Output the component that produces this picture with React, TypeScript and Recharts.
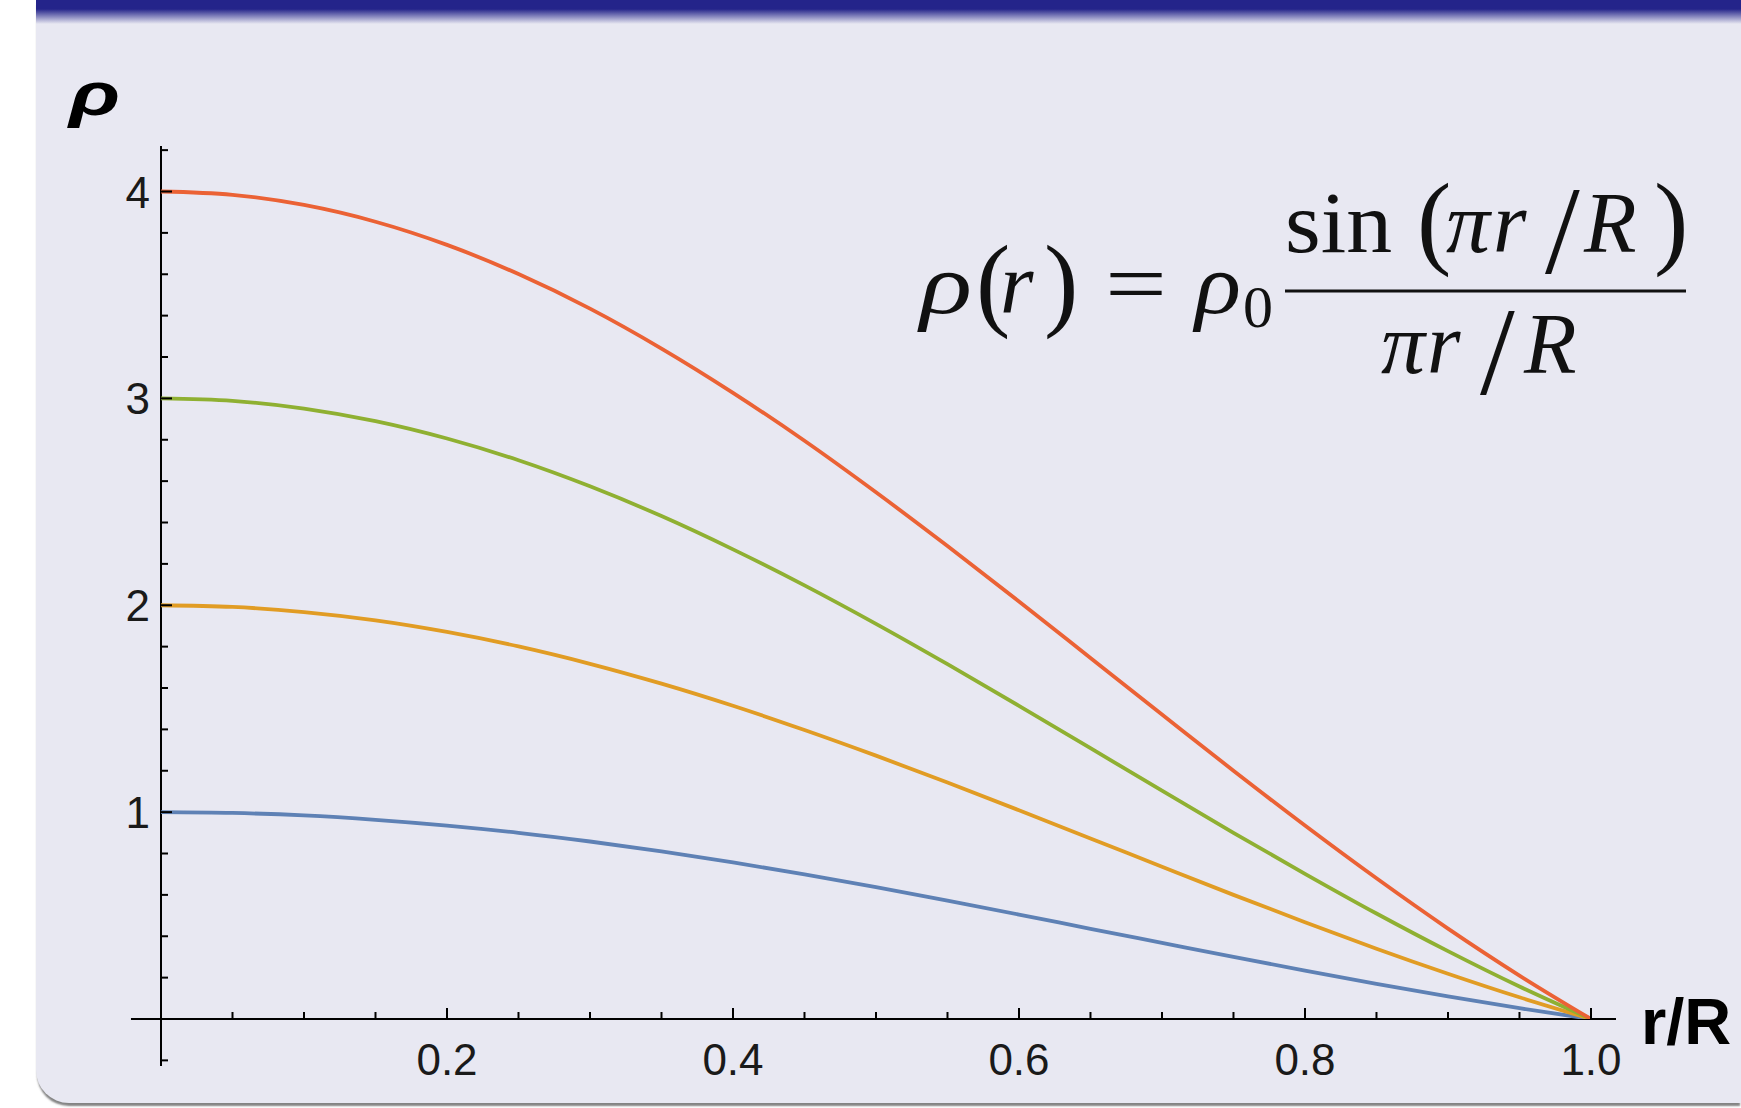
import React from 'react';
import { LineChart, Line, XAxis, YAxis, ReferenceLine } from 'recharts';

// r/R sample positions
const rValues = [0, 0.05, 0.1, 0.15, 0.2, 0.25, 0.3, 0.35, 0.4, 0.45, 0.5, 0.55, 0.6, 0.65, 0.7, 0.75, 0.8, 0.85, 0.9, 0.95, 1.0];

// rho(r) for rho0 = 1, 2, 3, 4
const rho1 = [1, 0.996, 0.984, 0.963, 0.935, 0.9, 0.858, 0.81, 0.757, 0.699, 0.637, 0.572, 0.505, 0.436, 0.368, 0.3, 0.234, 0.17, 0.109, 0.052, 0];
const rho2 = [2, 1.992, 1.967, 1.927, 1.871, 1.801, 1.717, 1.621, 1.514, 1.397, 1.273, 1.143, 1.009, 0.873, 0.736, 0.6, 0.468, 0.34, 0.219, 0.105, 0];
const rho3 = [3, 2.988, 2.951, 2.89, 2.806, 2.701, 2.575, 2.431, 2.27, 2.096, 1.91, 1.715, 1.514, 1.309, 1.104, 0.9, 0.702, 0.51, 0.328, 0.157, 0];
const rho4 = [4, 3.984, 3.935, 3.854, 3.742, 3.601, 3.434, 3.241, 3.027, 2.795, 2.546, 2.286, 2.018, 1.745, 1.472, 1.2, 0.935, 0.68, 0.437, 0.21, 0];

const xTicks = [0.05, 0.1, 0.15, 0.2, 0.25, 0.3, 0.35, 0.4, 0.45, 0.5, 0.55, 0.6, 0.65, 0.7, 0.75, 0.8, 0.85, 0.9, 0.95, 1.0];
const xTickLabels = ['0.2', '0.4', '0.6', '0.8', '1.0'];
const yTicks = [-0.2, 0.2, 0.4, 0.6, 0.8, 1, 1.2, 1.4, 1.6, 1.8, 2, 2.2, 2.4, 2.6, 2.8, 3, 3.2, 3.4, 3.6, 3.8, 4, 4.2];
const yTickLabels = ['1', '2', '3', '4'];

const data = rValues.map((r, i) => ({ r, rho1: rho1[i], rho2: rho2[i], rho3: rho3[i], rho4: rho4[i] }));

const sans = '"Liberation Sans", Arial, Helvetica, sans-serif';
const serif = '"Liberation Serif", "Times New Roman", serif';

const findLabel = (labels: string[], v: number) => labels.find((l) => Math.abs(parseFloat(l) - v) < 1e-6);

const XTick = (props: any) => {
  const { x, y, payload } = props;
  const label = findLabel(xTickLabels, payload.value);
  return (
    <g>
      <line x1={x} y1={y} x2={x} y2={y - (label ? 11 : 7)} stroke="#000" strokeWidth={2} />
      {label && (
        <text x={x} y={y + 56} textAnchor="middle" fontSize={44} fontFamily={sans} fill="#1a1a1a">
          {label}
        </text>
      )}
    </g>
  );
};

const YTick = (props: any) => {
  const { x, y, payload } = props;
  const label = findLabel(yTickLabels, payload.value);
  return (
    <g>
      <line x1={x} y1={y} x2={x + (label ? 11 : 7)} y2={y} stroke="#000" strokeWidth={2} />
      {label && (
        <text x={x - 11} y={y + 16} textAnchor="end" fontSize={44} fontFamily={sans} fill="#1a1a1a">
          {label}
        </text>
      )}
    </g>
  );
};

// formula pieces: text, x, baseline, italic, size, width
type Glyph = [string, number, number, boolean, number, number?];
const leftSide: Glyph[] = [
  ['ρ', 920, 313, true, 86, 52],
  ['(', 976, 317, false, 103],
  ['r', 1000, 313, true, 86],
  [')', 1044, 317, false, 103],
  ['=', 1105, 313, false, 86, 62],
  ['ρ', 1195, 313, true, 86, 46],
  ['0', 1243, 327, false, 60],
];
const numerator: Glyph[] = [
  ['sin', 1285, 252, false, 86, 107],
  ['(', 1417, 255, false, 103],
  ['π', 1446, 252, true, 86, 44],
  ['r', 1493, 252, true, 86],
  ['/', 1545, 273, false, 125],
  ['R', 1584, 252, true, 86],
  [')', 1654, 255, false, 103],
];
const denominator: Glyph[] = [
  ['π', 1381, 373, true, 86, 44],
  ['r', 1427, 373, true, 86],
  ['/', 1480, 394, false, 125],
  ['R', 1524, 373, true, 86],
];

const Row = ({ glyphs }: { glyphs: Glyph[] }) => (
  <text fontFamily={serif} fill="#111">
    {glyphs.map(([t, x, y, it, size, w], i) => (
      <tspan
        key={i}
        x={x}
        y={y}
        fontSize={size}
        fontStyle={it ? 'italic' : 'normal'}
        {...(w ? { textLength: w, lengthAdjust: 'spacingAndGlyphs' } : {})}
      >
        {t}
      </tspan>
    ))}
  </text>
);

export default function App() {
  return (
    <div style={{ position: 'absolute', left: 0, top: 0, width: 1741, height: 1108, background: '#ffffff', overflow: 'hidden' }}>
      <div
        style={{
          position: 'absolute',
          left: 36,
          top: 0,
          width: 1741 - 36,
          height: 1103,
          background: 'rgb(232,232,242)',
          borderBottomLeftRadius: 33,
          boxShadow: '0 4px 2px -1px rgba(90,90,90,0.75)',
        }}
      />
      <div
        style={{
          position: 'absolute',
          left: 36,
          top: 0,
          width: 1741 - 36,
          height: 24,
          background: 'linear-gradient(to bottom, rgb(36,36,138) 0px, rgb(36,36,138) 9px, rgba(232,232,242,1) 24px)',
        }}
      />
      <div style={{ position: 'absolute', left: 0, top: 0 }}>
        <LineChart width={1741} height={1108} data={data} margin={{ top: 146, right: 125, bottom: 88, left: 160 }}>
          <XAxis
            dataKey="r"
            type="number"
            domain={[0, 1.0175]}
            ticks={xTicks}
            interval={0}
            axisLine={false}
            tickLine={false}
            tickSize={0}
            tickMargin={0}
            height={1}
            tick={<XTick />}
          />
          <YAxis
            type="number"
            domain={[0, 4.22]}
            ticks={yTicks}
            interval={0}
            axisLine={false}
            tickLine={false}
            tickSize={0}
            tickMargin={0}
            width={1}
            tick={<YTick />}
            allowDataOverflow
          />
          <ReferenceLine segment={[{ x: -0.021, y: 0 }, { x: 1.0175, y: 0 }]} stroke="#000" strokeWidth={2} ifOverflow="visible" />
          <ReferenceLine segment={[{ x: 0, y: -0.227 }, { x: 0, y: 4.22 }]} stroke="#000" strokeWidth={2} ifOverflow="visible" />
          <Line dataKey="rho1" type="monotone" stroke="#5E81B5" strokeWidth={3.8} dot={false} isAnimationActive={false} />
          <Line dataKey="rho2" type="monotone" stroke="#E19C24" strokeWidth={3.8} dot={false} isAnimationActive={false} />
          <Line dataKey="rho3" type="monotone" stroke="#8FB032" strokeWidth={3.8} dot={false} isAnimationActive={false} />
          <Line dataKey="rho4" type="monotone" stroke="#EB6235" strokeWidth={3.8} dot={false} isAnimationActive={false} />
        </LineChart>
      </div>
      <svg width={1741} height={1108} style={{ position: 'absolute', left: 0, top: 0, pointerEvents: 'none' }}>
        <text x={69} y={115} fontSize={62} fontWeight="bold" fontStyle="italic" fontFamily={sans} textLength={51} lengthAdjust="spacingAndGlyphs" fill="#000">
          ρ
        </text>
        <text x={1641} y={1044} fontSize={65} fontWeight="bold" fontFamily={sans} fill="#000">
          r/R
        </text>
        <Row glyphs={leftSide} />
        <Row glyphs={numerator} />
        <Row glyphs={denominator} />
        <line x1={1285} y1={291} x2={1686} y2={291} stroke="#111" strokeWidth={3} />
      </svg>
    </div>
  );
}
